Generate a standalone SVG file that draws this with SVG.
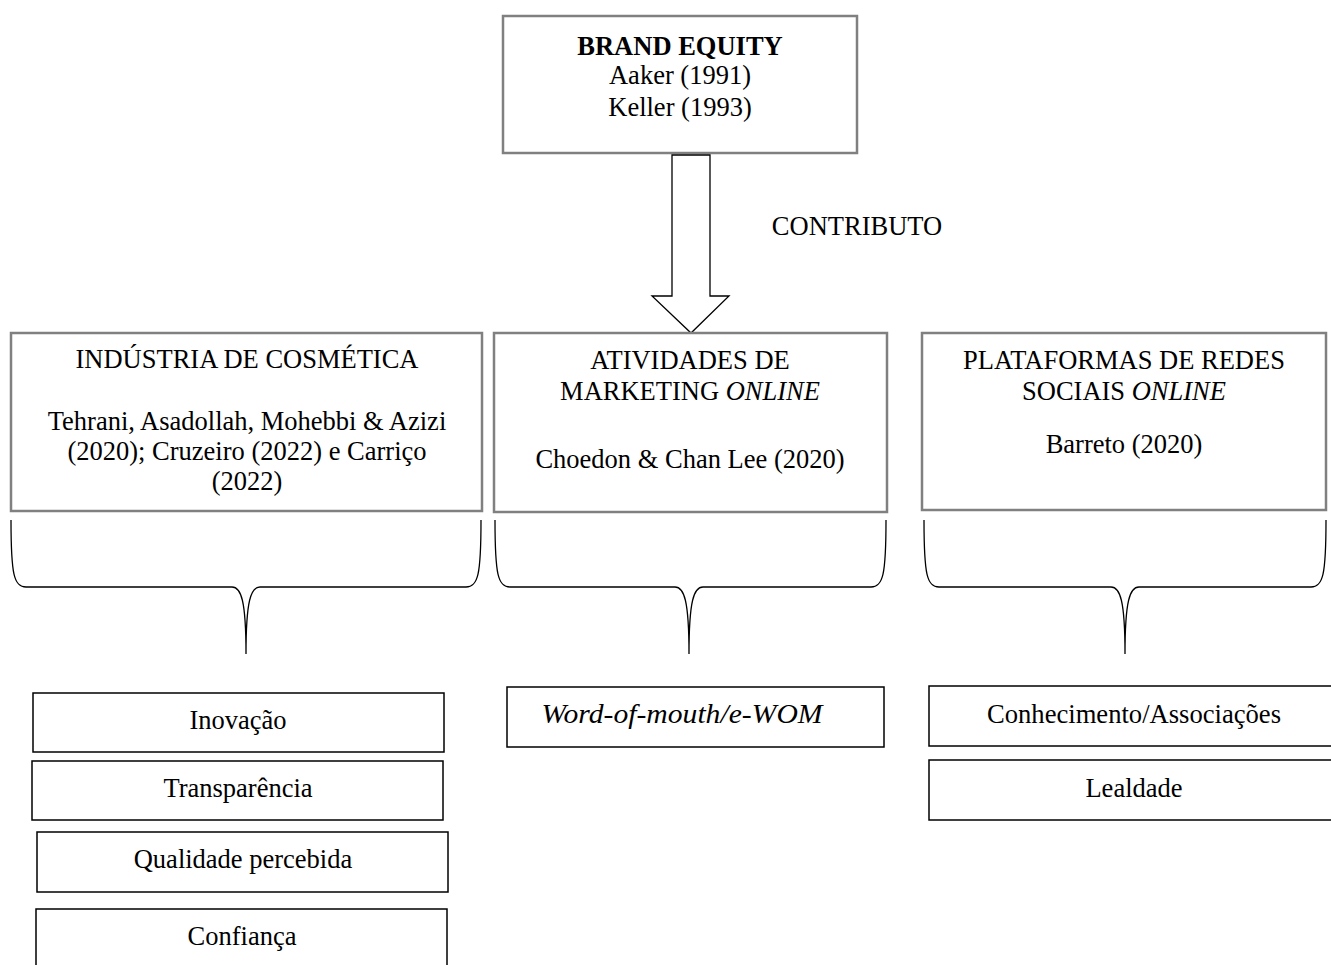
<svg xmlns="http://www.w3.org/2000/svg" width="1331" height="965" viewBox="0 0 1331 965">
<style>
text{font-family:"Liberation Serif","Times New Roman",serif;font-size:26.5px;fill:#000;text-anchor:middle}
.b{font-weight:bold}
.i{font-style:italic}
.top{fill:#fff;stroke:#808080;stroke-width:2.5}
.item{fill:#fff;stroke:#000;stroke-width:1.5}
.brace{fill:none;stroke:#000;stroke-width:1.3}
</style>
<rect width="1331" height="965" fill="#fff"/>
<g id="brand-equity">
<rect class="top" x="503" y="16" width="354" height="137"/>
<text x="680" y="55" class="b">BRAND EQUITY</text>
<text x="680" y="84">Aaker (1991)</text>
<text x="680" y="116">Keller (1993)</text>
</g>
<g id="connectors">
<path d="M672,155 L710,155 L710,296 L729,296 L691,333 L652,296 L672,296 Z" fill="#fff" stroke="#000" stroke-width="1.3"/>
<text x="857" y="235">CONTRIBUTO</text>
<path class="brace" d="M11,520 C11,575 14,587 26,587 L232,587 C241,587 246,600 246,654 C246,600 251,587 260,587 L466,587 C478,587 481,575 481,520"/>
<path class="brace" d="M495,520 C495,575 498,587 510,587 L675,587 C684,587 689,600 689,654 C689,600 694,587 703,587 L871,587 C883,587 886,575 886,520"/>
<path class="brace" d="M924,520 C924,575 927,587 939,587 L1111,587 C1120,587 1125,600 1125,654 C1125,600 1130,587 1139,587 L1311,587 C1323,587 1326,575 1326,520"/>
</g>
<g id="industria">
<rect class="top" x="11" y="333" width="471" height="178"/>
<text x="247" y="368">INDÚSTRIA DE COSMÉTICA</text>
<text x="247" y="430">Tehrani, Asadollah, Mohebbi &amp; Azizi</text>
<text x="247" y="460">(2020); Cruzeiro (2022) e Carriço</text>
<text x="247" y="490">(2022)</text>
</g>
<g id="atividades">
<rect class="top" x="494" y="333" width="393" height="179"/>
<text x="690" y="369">ATIVIDADES DE</text>
<text x="690" y="400">MARKETING <tspan class="i">ONLINE</tspan></text>
<text x="690" y="468">Choedon &amp; Chan Lee (2020)</text>
</g>
<g id="plataformas">
<rect class="top" x="922" y="333" width="404" height="177"/>
<text x="1124" y="369">PLATAFORMAS DE REDES</text>
<text x="1124" y="400">SOCIAIS <tspan class="i">ONLINE</tspan></text>
<text x="1124" y="453">Barreto (2020)</text>
</g>
<g id="inovacao">
<rect class="item" x="33" y="693" width="411" height="59"/>
<text x="238" y="729">Inovação</text>
</g>
<g id="transparencia">
<rect class="item" x="32" y="761" width="411" height="59"/>
<text x="238" y="797">Transparência</text>
</g>
<g id="qualidade">
<rect class="item" x="37" y="832" width="411" height="60"/>
<text x="243" y="868">Qualidade percebida</text>
</g>
<g id="confianca">
<rect class="item" x="36" y="909" width="411" height="70"/>
<text x="242" y="945">Confiança</text>
</g>
<g id="wom">
<rect class="item" x="507" y="687" width="377" height="60"/>
<text x="682" y="723" class="i" textLength="281" lengthAdjust="spacingAndGlyphs">Word-of-mouth/e-WOM</text>
</g>
<g id="conhecimento">
<rect class="item" x="929" y="686" width="410" height="60"/>
<text x="1134" y="723" textLength="294" lengthAdjust="spacingAndGlyphs">Conhecimento/Associações</text>
</g>
<g id="lealdade">
<rect class="item" x="929" y="760" width="410" height="60"/>
<text x="1134" y="797">Lealdade</text>
</g>
</svg>
